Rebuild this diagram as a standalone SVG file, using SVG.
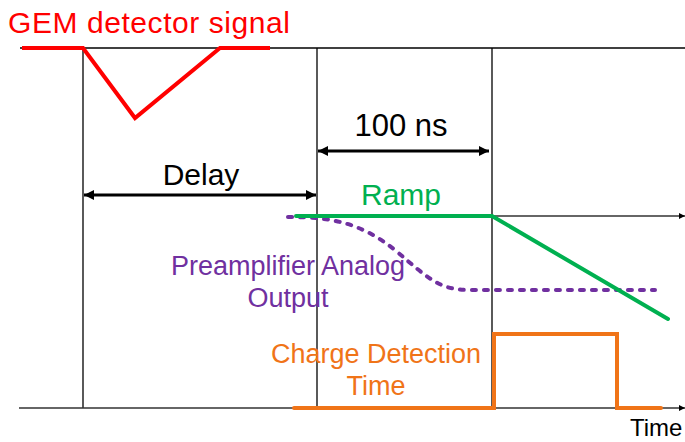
<svg xmlns="http://www.w3.org/2000/svg" width="685" height="442" viewBox="0 0 685 442">
<defs>
<marker id="ah" viewBox="0 0 10 10" refX="10" refY="5" markerWidth="16" markerHeight="10" markerUnits="userSpaceOnUse" orient="auto-start-reverse"><path d="M0,0 L10,5 L0,10 z" fill="#000"/></marker>
<marker id="small" viewBox="0 0 10 10" refX="10" refY="5" markerWidth="6" markerHeight="6" markerUnits="userSpaceOnUse" orient="auto"><path d="M0,0 L10,5 L0,10 z" fill="#000"/></marker>
</defs>
<style>
.grid{stroke:#000;stroke-width:1.3;fill:none}
.axis{stroke:#333;stroke-width:1.5;fill:none}
.dim{stroke:#000;stroke-width:3;fill:none}
text{font-family:"Liberation Sans",Arial,sans-serif}
</style>
<rect width="685" height="442" fill="#fff"/>
<g id="connectors">
<line class="grid" x1="20" y1="48" x2="685" y2="48"/>
<line class="grid" x1="83" y1="48" x2="83" y2="408"/>
<line class="grid" x1="317" y1="48" x2="317" y2="408"/>
<line class="grid" x1="492" y1="48" x2="492" y2="408"/>
<line class="axis" x1="492" y1="216" x2="685" y2="216" marker-end="url(#small)"/>
<line class="axis" x1="19" y1="408" x2="685" y2="408" marker-end="url(#small)"/>
<line class="dim" x1="318" y1="151" x2="489" y2="151" marker-start="url(#ah)" marker-end="url(#ah)"/>
<line class="dim" x1="84" y1="195" x2="316" y2="195" marker-start="url(#ah)" marker-end="url(#ah)"/>
</g>
<g id="gem">
<polyline points="22,48 83,48 135,118 220,48 270,48" fill="none" stroke="#ff0000" stroke-width="4" stroke-linejoin="miter"/>
<text x="8" y="33" font-size="30" textLength="282" fill="#ff0000">GEM detector signal</text>
</g>
<g id="labels">
<text x="401" y="136" font-size="31" text-anchor="middle" fill="#000">100 ns</text>
<text x="201" y="185" font-size="30" text-anchor="middle" fill="#000">Delay</text>
</g>
<g id="preamp">
<path d="M288,217 C330,217 360,222 395,250 C430,280 440,290 470,290 L655,290" fill="none" stroke="#7030a0" stroke-width="4" stroke-linecap="round" stroke-dasharray="4 8"/>
<text x="288" y="275" font-size="27" text-anchor="middle" fill="#7030a0">Preamplifier Analog</text>
<text x="288" y="307" font-size="27" text-anchor="middle" fill="#7030a0">Output</text>
</g>
<g id="ramp">
<polyline points="296,216 492,216 668,319" fill="none" stroke="#00b050" stroke-width="4" stroke-linecap="round"/>
<text x="401" y="205" font-size="30" text-anchor="middle" fill="#00b050">Ramp</text>
</g>
<g id="charge">
<polyline points="294,408 494,408 494,334 617,334 617,408 661,408" fill="none" stroke="#f07418" stroke-width="4" stroke-linecap="round"/>
<text x="376" y="363" font-size="27" text-anchor="middle" fill="#f07418">Charge Detection</text>
<text x="376" y="395" font-size="27" text-anchor="middle" fill="#f07418">Time</text>
</g>
<g id="time">
<text x="630" y="436" font-size="24" fill="#000">Time</text>
</g>
</svg>
